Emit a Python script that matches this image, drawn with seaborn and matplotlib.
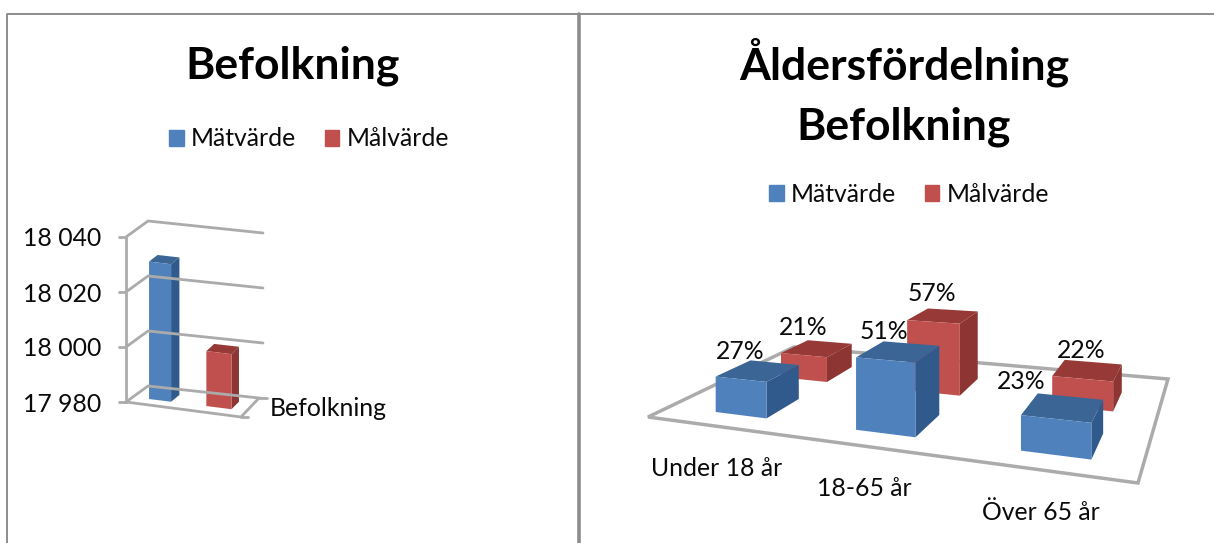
from __future__ import annotations

import matplotlib
matplotlib.use('Agg')
import matplotlib.pyplot as plt
from matplotlib.patches import Patch, Polygon
import numpy as np
import pandas as pd
import seaborn as sns

sns.set_theme(style='white')
plt.rcParams['font.family'] = ['Lato', 'DejaVu Sans']

SERIES = ['Mätvärde', 'Målvärde']
POPULATION_CATEGORY = ['Befolkning']
POPULATION_VALUES = [18030, 18000]
POPULATION_TICKS = [17980, 18000, 18020, 18040]
POPULATION_TICK_LABELS = ['17 980', '18 000', '18 020', '18 040']
AGE_GROUPS = ['Under 18 år', '18-65 år', 'Över 65 år']
AGE_MEASURED = [27, 51, 23]
AGE_TARGET = [21, 57, 22]

WIDTH, HEIGHT = 1214, 543
LABEL_SIZE = 17.8
TITLE_SIZE = 32
FACE_COLORS = {
    'Mätvärde': ('#4F81BD', '#3A6595', '#315A8C'),
    'Målvärde': ('#C0504D', '#973A37', '#8C3533'),
}
GRID_COLOR = '#ABABAB'
FRAME_COLOR = '#8C8C8C'
TEXT_COLOR = '#0A0A0A'


def floor_matrix(corners: list[tuple[float, float]]) -> np.ndarray:
    """Returns the homography from the unit floor (front-left, front-right, back-right, back-left) to pixels."""
    unit = [(0, 0), (1, 0), (1, 1), (0, 1)]
    rows, targets = [], []
    for (u, v), (x, y) in zip(unit, corners):
        rows.append([u, v, 1, 0, 0, 0, -u * x, -v * x])
        rows.append([0, 0, 0, u, v, 1, -u * y, -v * y])
        targets.extend([x, y])
    return np.append(np.linalg.solve(np.array(rows, dtype=float), np.array(targets, dtype=float)), 1).reshape(3, 3)


def project(matrix: np.ndarray, u: float, v: float, height: float = 0, perspective: bool = True) -> tuple[float, float]:
    """Projects a floor position and a height in pixels to the picture."""
    x, y, w = matrix @ np.array([u, v, 1])
    return x / w, y / w - height / (w if perspective else 1)


def draw_box(canvas: plt.Axes, matrix, u0, u1, v0, v1, height, colors, perspective=True) -> None:
    """Draws the front, top and right face of one box."""
    front, top, side = colors
    faces = [
        (top, [(u0, v0, height), (u1, v0, height), (u1, v1, height), (u0, v1, height)]),
        (side, [(u1, v0, 0), (u1, v1, 0), (u1, v1, height), (u1, v0, height)]),
        (front, [(u0, v0, 0), (u1, v0, 0), (u1, v0, height), (u0, v0, height)]),
    ]
    for color, points in faces:
        polygon = [project(matrix, *p, perspective=perspective) for p in points]
        canvas.add_patch(Polygon(polygon, closed=True, fc=color, ec='none'))


def add_legend(fig: plt.Figure, x: float, y: float) -> None:
    """Adds a series legend centered at the given pixel."""
    handles = [Patch(color=FACE_COLORS[name][0], label=name) for name in SERIES]
    fig.legend(
        handles=handles, loc='center', bbox_to_anchor=(x / WIDTH, 1 - y / HEIGHT), ncols=2, frameon=False,
        fontsize=LABEL_SIZE, handlelength=0.6, handleheight=0.6, handletextpad=0.28, columnspacing=1.15,
        labelcolor=TEXT_COLOR,
    )


def plot_population(fig: plt.Figure, canvas: plt.Axes) -> None:
    """Plots the left panel."""
    data = pd.DataFrame({'group': POPULATION_CATEGORY * 2, 'serie': SERIES, 'value': POPULATION_VALUES})
    ax = fig.add_axes((126 / WIDTH, 1 - 402 / HEIGHT, 120 / WIDTH, 165 / HEIGHT), facecolor='none')
    sns.barplot(data=data, x='group', y='value', hue='serie', gap=0.6, legend=False, ax=ax)
    base, top = POPULATION_TICKS[0], POPULATION_TICKS[-1]
    ax.set_ylim(base, top)
    ax.set_yticks(POPULATION_TICKS, POPULATION_TICK_LABELS, fontsize=LABEL_SIZE, color=TEXT_COLOR)
    ax.tick_params(axis='y', left=True, length=6, width=2, color=GRID_COLOR, pad=12)
    ax.set_xticks([])
    ax.set(xlabel='', ylabel='')
    sns.despine(ax=ax, bottom=True)
    ax.spines['left'].set(color=GRID_COLOR, linewidth=2)
    matrix = floor_matrix([(126, 402), (241, 417), (259, 398), (148, 386)])
    scale = 165 / (top - base)
    for tick in POPULATION_TICKS:
        height = (tick - base) * scale
        corners = [(0, 0), (0, 1), (1, 1)]
        if tick == base:
            corners += [(1, 0), (0, 0)]
        line = [project(matrix, u, v, height, perspective=False) for u, v in corners]
        if tick != base:
            line[-1] = (263, line[-1][1])
        canvas.plot(*zip(*line), color=GRID_COLOR, lw=2, solid_joinstyle='miter')
    # Short tick stubs on the floor's right edge
    canvas.plot([259, 267], [398, 398], color=GRID_COLOR, lw=2)
    canvas.plot([241, 248], [417, 417], color=GRID_COLOR, lw=2)
    for serie, container in zip(SERIES, ax.containers):
        for bar in container:
            u0 = 0.52 + 1.29 * bar.get_x()
            u1 = u0 + 1.29 * bar.get_width()
            height = (bar.get_height() - base) * scale
            draw_box(canvas, matrix, u0, u1, 0.3, 0.7, height, FACE_COLORS[serie], perspective=False)
    for container in list(ax.containers):
        container.remove()
    canvas.text(270, 408, POPULATION_CATEGORY[0], fontsize=LABEL_SIZE, va='center', color=TEXT_COLOR)
    canvas.text(293, 66, 'Befolkning', fontsize=TITLE_SIZE, fontweight='bold', ha='center', va='center', color='black')
    add_legend(fig, 309, 139)


def plot_age(fig: plt.Figure, canvas: plt.Axes) -> None:
    """Plots the right panel."""
    data = pd.DataFrame({
        'group': AGE_GROUPS * 2,
        'serie': [SERIES[0]] * 3 + [SERIES[1]] * 3,
        'value': AGE_MEASURED + AGE_TARGET,
    })
    ax = fig.add_axes((0.6, 0.1, 0.3, 0.3), facecolor='none')
    sns.barplot(data=data, x='group', y='value', hue='serie', dodge=False, width=0.38, legend=False, ax=ax)
    ax.set_axis_off()
    matrix = floor_matrix([(648, 417), (1138, 483), (1168, 379), (794, 347)])
    canvas.add_patch(Polygon(
        [project(matrix, *p) for p in [(0, 0), (1, 0), (1, 1), (0, 1)]],
        closed=True, fc='white', ec=GRID_COLOR, lw=2.5,
    ))
    scale = 1.33
    depth = {'Mätvärde': (0.12, 0.34), 'Målvärde': (0.56, 0.78)}
    # Excel pushed this one label aside so it clears the bar behind it
    label_shift = {('Mätvärde', 2): (-33, -9)}
    labels = []
    for serie, container in reversed(list(zip(SERIES, ax.containers))):
        v0, v1 = depth[serie]
        for i, bar in enumerate(container):
            u0 = (bar.get_x() + 0.5) / 3 + 0.016
            u1 = u0 + bar.get_width() / 3
            height = bar.get_height() * scale
            draw_box(canvas, matrix, u0, u1, v0, v1, height, FACE_COLORS[serie])
            x, y = project(matrix, (u0 + u1) / 2, v0, height)
            dx, dy = label_shift.get((serie, i), (0, 0))
            labels.append((x - 1 + dx, y - 28 + dy, f'{bar.get_height():.0f}%'))
    for x, y, text in labels:
        canvas.text(x, y, text, fontsize=LABEL_SIZE, ha='center', va='center', color=TEXT_COLOR)
    for i, group in enumerate(AGE_GROUPS):
        x, y = project(matrix, (i + 0.5) / 3, 0)
        canvas.text(x + 3, y + 43, group, fontsize=LABEL_SIZE, ha='center', va='center', color=TEXT_COLOR)
    for container in list(ax.containers):
        container.remove()
    canvas.text(904, 62, 'Åldersfördelning', fontsize=TITLE_SIZE, fontweight='bold', ha='center', va='center', color='black')
    canvas.text(904, 127, 'Befolkning', fontsize=TITLE_SIZE, fontweight='bold', ha='center', va='center', color='black')
    add_legend(fig, 909, 194)


def main() -> None:
    """Main function of this script."""
    fig = plt.figure(figsize=(WIDTH / 100, HEIGHT / 100), dpi=100, facecolor='white')
    # Pixel canvas for the projected faces
    canvas = fig.add_axes((0, 0, 1, 1), facecolor='none', zorder=3)
    canvas.set_xlim(0, WIDTH)
    canvas.set_ylim(HEIGHT, 0)
    canvas.set_axis_off()
    canvas.plot([1214, 7, 7], [14, 14, 543], color=FRAME_COLOR, lw=1.4)
    canvas.plot([579, 579], [14, 543], color=FRAME_COLOR, lw=2.6)
    plot_population(fig, canvas)
    plot_age(fig, canvas)
    fig.savefig('out.png', dpi=100)


if __name__ == '__main__':
    main()
